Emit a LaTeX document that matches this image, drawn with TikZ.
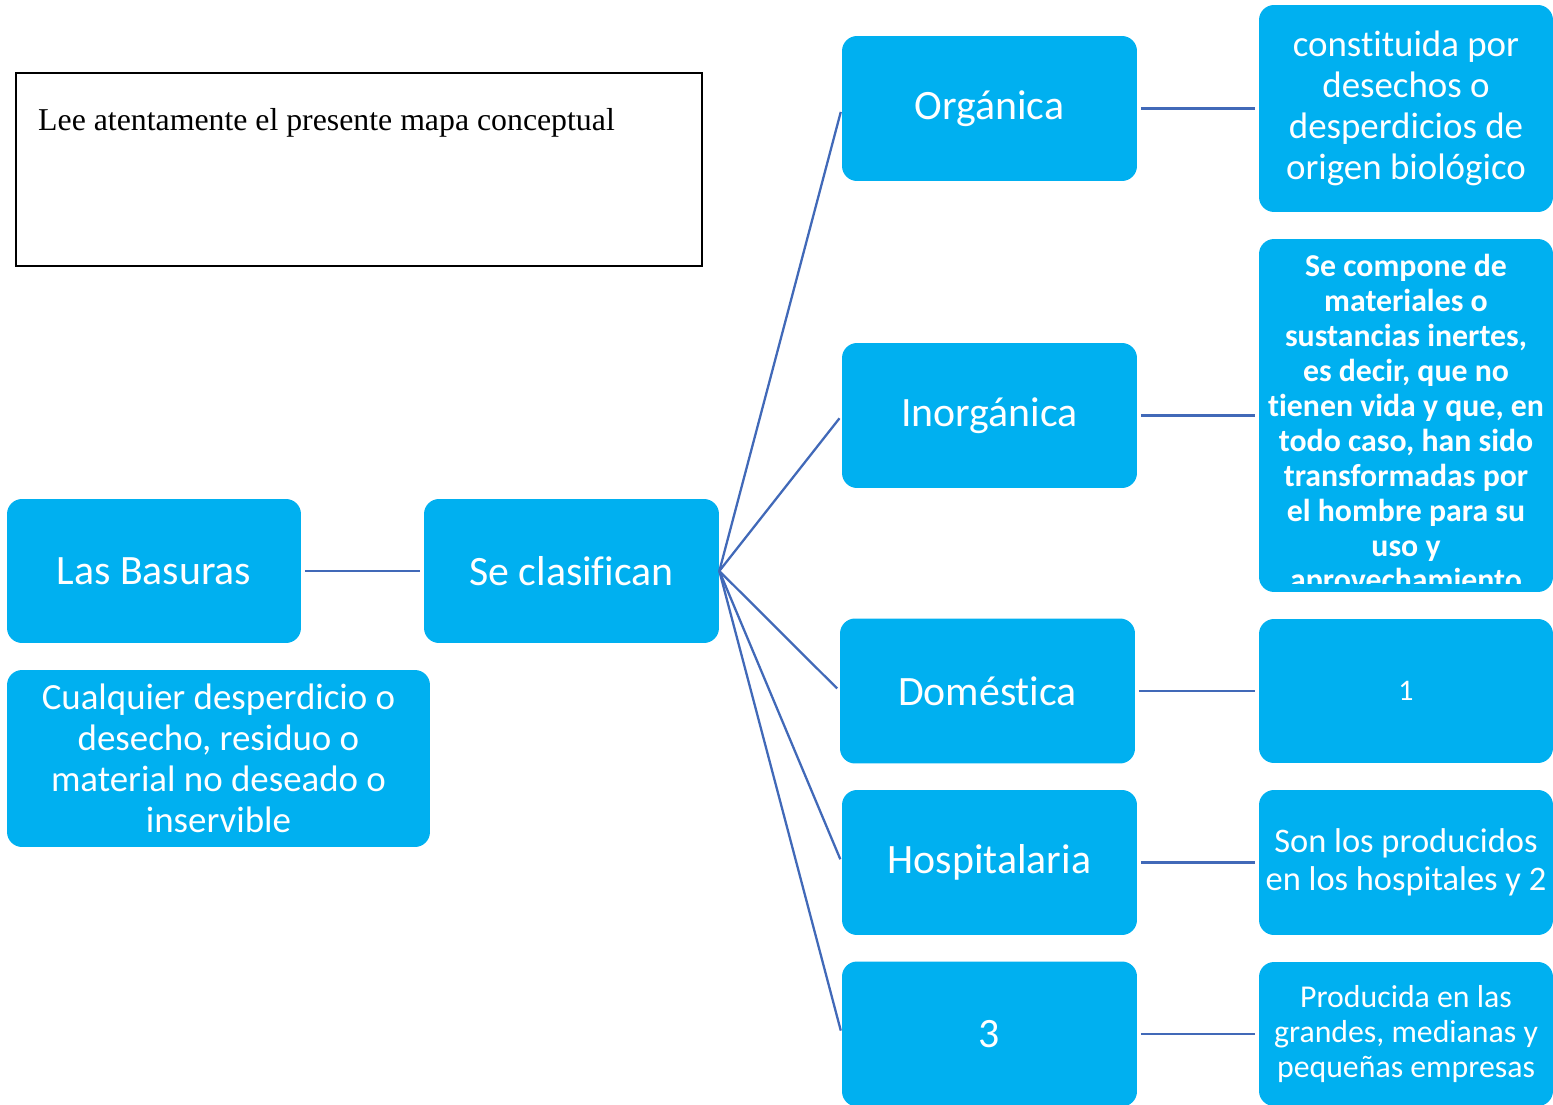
\documentclass[tikz,border=0pt]{standalone}
\usepackage{fontspec}
\setmainfont{Carlito}[Ligatures=NoCommon, RawFeature={-liga;-clig;-calt;-dlig}]
\newfontfamily\timesfont{Liberation Serif}
\usetikzlibrary{positioning}
\definecolor{BoxCyan}{HTML}{00B0F0}
\definecolor{LinkBlue}{HTML}{4169B8}
\tikzset{
  concept/.style={fill=BoxCyan, rounded corners=0.3cm, text=white, align=center, minimum width=5.9cm, minimum height=2.9cm, inner sep=2pt, font=\fontsize{23.8}{28}\selectfont},
  detail/.style={concept, font=\fontsize{21}{23.3}\selectfont},
  smalldetail/.style={concept, font=\fontsize{18.1}{19.9}\selectfont},
  link/.style={draw=LinkBlue, line width=1.3pt, shorten <=2pt, shorten >=2pt}
}
\begin{document}
\begin{tikzpicture}[x=0.02cm, y=-0.02cm]
\useasboundingbox (0,0) rectangle (1553,1105);

% instruction frame
\node[draw=black, line width=1pt, minimum width=13.72cm, minimum height=3.86cm] (frame) at (359,169.5) {};
\node[anchor=base west, font=\timesfont\fontsize{18.1}{21}\selectfont] (intro) at (32,131) {Lee atentamente el presente mapa conceptual};

% left part
\node[concept, minimum width=5.88cm, minimum height=2.88cm] (basuras) at (154,571) {Las Basuras};
\node[concept, minimum width=5.9cm, minimum height=2.88cm] (clasif) at (571.5,571) {Se clasifican};
\node[detail, minimum width=8.46cm, minimum height=3.54cm] (defin) at (218.5,758.5)
  {Cualquier desperdicio o\\desecho, residuo o\\material no deseado o\\inservible};

% types
\node[concept] (organica) at (989.5,108.5) {Orgánica};
\node[concept] (inorganica) at (989.5,415.5) {Inorgánica};
\node[concept] (domestica) at (987.5,691) {Doméstica};
\node[concept] (hospital) at (989.5,862.5) {Hospitalaria};
\node[concept] (tres) at (989.5,1034) {3};

% descriptions
\node[detail, minimum width=5.88cm, minimum height=4.14cm] (constit) at (1406,108.5)
  {constituida por\\desechos o\\desperdicios de\\origen biológico};
\node[concept, minimum width=5.88cm, minimum height=7.06cm] (compone) at (1406,415.5) {};
\begin{scope}
  \clip (1259,239) rectangle (1553,583);
  \node[text=white, align=center, font=\bfseries\fontsize{18.1}{19.9}\selectfont] (componetxt) at (1406,425)
    {Se compone de\\materiales o\\sustancias inertes,\\es decir, que no\\tienen vida y que, en\\todo caso, han sido\\transformadas por\\el hombre para su\\uso y\\aprovechamiento};
\end{scope}
\node[concept, minimum width=5.88cm, minimum height=2.88cm, font=\fontsize{17}{20}\selectfont] (uno) at (1406,691) {1};
\node[concept, minimum width=5.88cm, font=\fontsize{19.6}{21.6}\selectfont] (sonlos) at (1406,862.5)
  {Son los producidos\\en los hospitales y 2};
\node[smalldetail, minimum width=5.88cm, minimum height=2.88cm] (producida) at (1406,1034)
  {Producida en las\\grandes, medianas y\\pequeñas empresas};

% connectors
\draw[link] (basuras) -- (clasif);
\foreach \t in {organica,inorganica,domestica,hospital,tres}
  \draw[link, shorten <=0pt] (clasif.east) -- (\t.west);
\foreach \a/\b in {organica/constit, inorganica/compone, domestica/uno, hospital/sonlos, tres/producida}
  \draw[link] (\a) -- (\b);
\end{tikzpicture}
\end{document}
